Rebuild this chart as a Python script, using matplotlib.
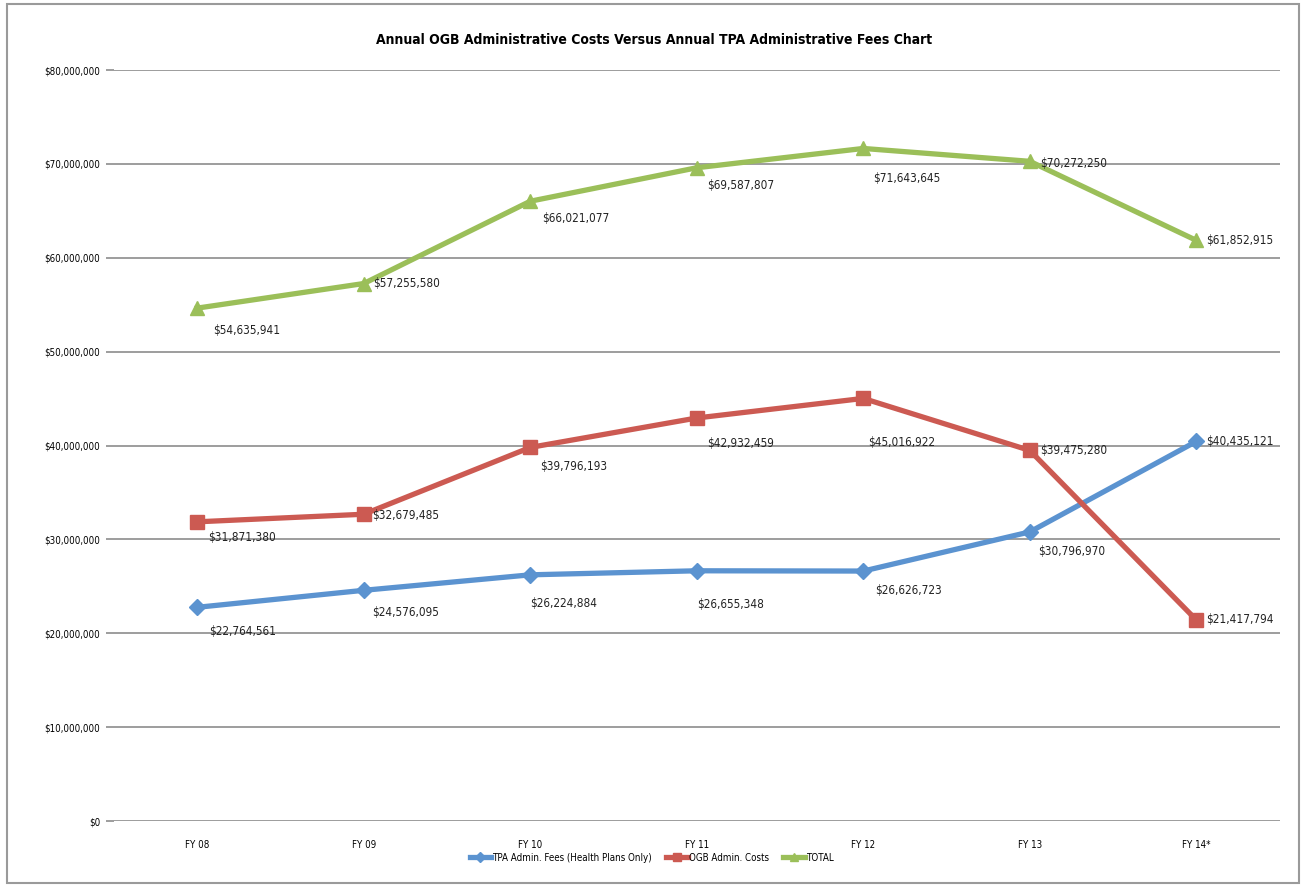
import matplotlib.pyplot as plt
from matplotlib.patches import Rectangle
from matplotlib.ticker import FuncFormatter

plt.rcParams['font.family'] = ['DejaVu Sans']
plt.rcParams['font.stretch'] = 'condensed'

years = ['FY 08', 'FY 09', 'FY 10', 'FY 11', 'FY 12', 'FY 13', 'FY 14*']
tpa_fees = [22764561, 24576095, 26224884, 26655348, 26626723, 30796970, 40435121]
ogb_costs = [31871380, 32679485, 39796193, 42932459, 45016922, 39475280, 21417794]
total = [54635941, 57255580, 66021077, 69587807, 71643645, 70272250, 61852915]

# label offsets in pixels (dx, dy down) for each point
tpa_offsets = [(12, 24), (8, 22), (0, 29), (0, 34), (12, 19), (8, 20), (10, 0)]
ogb_offsets = [(11, 16), (8, 1), (10, 19), (10, 26), (5, 44), (10, 0), (10, 0)]
total_offsets = [(16, 22), (9, 0), (12, 17), (10, 18), (10, 30), (10, 2), (10, 0)]

series = [
    ('TPA Admin. Fees (Health Plans Only)', tpa_fees, '#5B93D0', 'D', tpa_offsets),
    ('OGB Admin. Costs', ogb_costs, '#CC5A52', 's', ogb_offsets),
    ('TOTAL', total, '#9BBF59', '^', total_offsets),
]

fig = plt.figure(figsize=(13.03, 8.85), dpi=100)
ax = fig.add_axes([0.0875, 0.0723, 0.8945, 0.8486])

x = list(range(len(years)))
for name, vals, color, marker, offsets in series:
    ax.plot(x, vals, color=color, lw=3.8, marker=marker, markersize=10 if marker != 'D' else 8,
            markerfacecolor=color, markeredgecolor=color, label=name, zorder=3)
    for xi, v, (dx, dy) in zip(x, vals, offsets):
        ax.annotate('${:,.0f}'.format(v), (xi, v), xytext=(dx, -dy), textcoords='offset pixels',
                    ha='left', va='center', fontsize=8.5, color='#222222', zorder=4)

ax.set_xlim(-0.5, len(years) - 0.5)
ax.set_ylim(0, 80000000)
ax.set_yticks(range(0, 80000001, 10000000))
ax.yaxis.set_major_formatter(FuncFormatter(lambda v, p: '${:,.0f}'.format(v)))
ax.set_xticks(x)
ax.set_xticklabels(years)
ax.grid(axis='y', color='#8c8c8c', lw=1.2)
ax.set_axisbelow(True)
for s in ax.spines.values():
    s.set_visible(False)
ax.tick_params(axis='y', length=6, color='#8c8c8c', width=1.2, pad=4, labelsize=7)
ax.tick_params(axis='x', length=0, pad=14, labelsize=7)

fig.text(0.502, 0.955, 'Annual OGB Administrative Costs Versus Annual TPA Administrative Fees Chart',
         ha='center', va='center', fontsize=10, fontweight='bold')

fig.legend(loc='lower center', bbox_to_anchor=(0.5, 0.0), ncol=3, frameon=False, fontsize=7,
           handlelength=2.2, handletextpad=0.1, columnspacing=1.5, borderaxespad=1.9,
           markerscale=0.6)

fig.patches.append(Rectangle((0.005, 0.002), 0.992, 0.994, transform=fig.transFigure,
                             fill=False, edgecolor='#9a9a9a', lw=1.5))

fig.savefig('out.png', dpi=100)
